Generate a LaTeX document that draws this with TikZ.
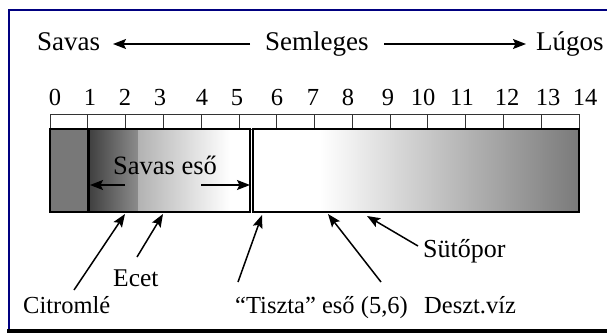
\documentclass[tikz,border=0pt]{standalone}
\usepackage{fontspec}
\setmainfont{Liberation Serif}
\usetikzlibrary{arrows.meta}
\definecolor{navyframe}{RGB}{0,0,128}
\definecolor{darkblock}{RGB}{120,120,120}
\definecolor{acidA}{RGB}{62,62,62}
\definecolor{acidB}{RGB}{140,140,140}
\definecolor{acidC}{RGB}{178,178,178}
\definecolor{baseend}{RGB}{122,122,122}
\tikzset{
  lbl/.style={inner sep=0pt, anchor=base west, font=\fontsize{27}{30}\selectfont},
  lblb/.style={inner sep=0pt, anchor=base west, font=\fontsize{24.5}{28}\selectfont},
  digit/.style={inner sep=0pt, anchor=base, font=\fontsize{24.5}{28}\selectfont},
  arr/.style={line width=1.5pt, -{Stealth[length=13pt,width=10pt,inset=2.5pt]}},
  barborder/.style={draw=black, line width=2pt},
  cell/.style={draw=black!80, line width=0.8pt}
}
\begin{document}
\begin{tikzpicture}[x=1pt,y=-1pt]
\useasboundingbox (0,0) rectangle (607,333);
% frame
\draw[navyframe, line width=2pt] (8.5,330) -- (8.5,9.5) -- (607,9.5);
\fill[black] (7,329) rectangle (607,333);

% top row
\node[lbl] (savas) at (37,50) {Savas};
\node[lbl] (semleges) at (265,50) {Semleges};
\node[lbl] (lugos) at (536,50) {Lúgos};
\coordinate (la1) at (250,44);
\coordinate (la2) at (113,44);
\coordinate (ra1) at (384,44);
\coordinate (ra2) at (526,44);
\draw[arr] (la1) -- (la2);
\draw[arr] (ra1) -- (ra2);

% digits
\foreach \x/\t [count=\i] in {55/0,90/1,125/2,160/3,202/4,237/5,277/6,313/7,348/8,388/9,423/10,462/11,507/12,548/13,585/14}{
  \node[digit] (d\i) at (\x,105) {\t};
}

% ruler
\draw[cell] (50,114) rectangle (579,129);
\foreach \i in {1,...,13}{
  \draw[cell] ({50+37.786*\i},114) -- ({50+37.786*\i},129);
}

% bars
\fill[darkblock] (50,129) rectangle (88,212);
\draw[black, line width=1.2pt] (50,129) rectangle (88,212);
\shade[left color=acidA, right color=acidB] (88,129) rectangle (138,212);
\shade[left color=acidC, right color=white] (138,129) rectangle (230,212);
\fill[white] (230,129) rectangle (250,212);
\draw[barborder] (88.5,129) rectangle (250,212);
\draw[black, line width=2.5pt] (88.5,129) -- (88.5,212);

\fill[white] (253,129) rectangle (320,212);
\shade[left color=white, right color=baseend] (320,129) rectangle (579,212);
\draw[barborder] (253,129) rectangle (579,212);

% savas eso
\node[inner sep=0pt, anchor=base, font=\fontsize{26.5}{30}\selectfont] (se) at (165,174) {Savas eső};
\coordinate (sl1) at (125,185);
\coordinate (sl2) at (90,185);
\coordinate (sr1) at (201,185);
\coordinate (sr2) at (250,185);
\draw[arr] (sl1) -- (sl2);
\draw[arr] (sr1) -- (sr2);

% bottom labels
\node[lbl, font=\fontsize{26}{30}\selectfont] (sutopor) at (423,257) {Sütőpor};
\node[lblb, font=\fontsize{25.5}{30}\selectfont] (ecet) at (113,286) {Ecet};
\node[lblb] (citrom) at (23,313) {Citromlé};
\node[lblb] (tiszta) at (235,313) {“Tiszta” eső (5,6)};
\node[lblb] (deszt) at (424,313) {Deszt.víz};

% bottom arrows
\coordinate (tc) at (74,290);  \coordinate (hc) at (125,214);
\coordinate (te) at (137,257); \coordinate (he) at (163,214);
\coordinate (tt) at (238,282); \coordinate (ht) at (262,215);
\coordinate (td) at (381,282); \coordinate (hd) at (328,214);
\coordinate (ts) at (418,246); \coordinate (hs) at (367,216);
\draw[arr] (tc) -- (hc);
\draw[arr] (te) -- (he);
\draw[arr] (tt) -- (ht);
\draw[arr] (td) -- (hd);
\draw[arr] (ts) -- (hs);
\end{tikzpicture}
\end{document}
